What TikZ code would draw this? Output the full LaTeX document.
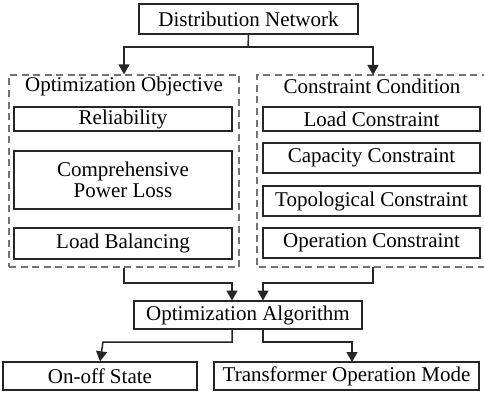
\documentclass[tikz,border=0pt]{standalone}
\usepackage{fontspec}
\setmainfont{Liberation Serif}
\usetikzlibrary{arrows.meta}
\begin{document}
\begin{tikzpicture}[x=1pt,y=-1pt,
  box/.style={draw=black!85,line width=1.4pt,minimum height=#1,inner sep=0pt,align=center,font=\fontsize{21}{21}\selectfont},
  box/.default=24pt,
  group/.style={draw=black!55,line width=1.2pt,dash pattern=on 7pt off 4.5pt},
  conn/.style={draw=black!85,line width=1.5pt,-{Triangle[width=11pt,length=10pt]}},
  lbl/.style={font=\fontsize{21}{21}\selectfont,inner sep=0pt}]
\useasboundingbox (0,0) rectangle (484,393);
\clip (0,0) rectangle (484,393);
% groups
\node[group,minimum width=230pt,minimum height=192pt,inner sep=0pt] (gl) at (124,171) {};
\coordinate (grn) at (373,75);
\coordinate (grs) at (373,267);
\draw[group] (500,75) -- (257,75) -- (257,267) -- (500,267);
\node[lbl] (lo) at (124,86) {Optimization Objective};
\node[lbl] (lc) at (372,86) {Constraint Condition};
% top
\node[box=30pt,minimum width=219pt] (dn) at (248.5,19) {Distribution Network};
% left column
\node[box,minimum width=218pt] (rel) at (123,119) {Reliability};
\node[box=58pt,minimum width=218pt] (cpl) at (123,180) {Comprehensive\\Power Loss};
\node[box=31pt,minimum width=218pt] (lb) at (123,243.5) {Load Balancing};
% right column
\node[box,minimum width=217pt] (lcs) at (371.5,119) {Load Constraint};
\node[box=30pt,minimum width=217pt] (cap) at (371.5,158) {Capacity Constraint};
\node[box=30pt,minimum width=217pt] (top) at (371.5,201) {Topological Constraint};
\node[box=30pt,minimum width=217pt] (op) at (371.5,243) {Operation Constraint};
% algorithm
\node[box=28pt,minimum width=228pt] (alg) at (248,315) {Optimization Algorithm};
\node[box=28pt,minimum width=194pt] (on) at (100,376) {On-off State};
\node[box=28pt,minimum width=265pt] (tr) at (346.5,376) {Transformer Operation Mode};
% connectors
\coordinate (j1) at (248,47);
\draw[draw=black!85,line width=1.5pt] (dn.south) -- (j1);
\draw[conn] (j1) -| (gl.north);
\draw[conn] (j1) -| (grn);
\draw[conn] (gl.south) |- (232,283) -- (232,300.5);
\draw[conn] (grs) |- (263,283) -- (263,300.5);
\draw[conn] (232,329) |- (103,342) -- (on.north);
\draw[conn] (263,329) |- (352,342) -- (352,362);
\end{tikzpicture}
\end{document}
